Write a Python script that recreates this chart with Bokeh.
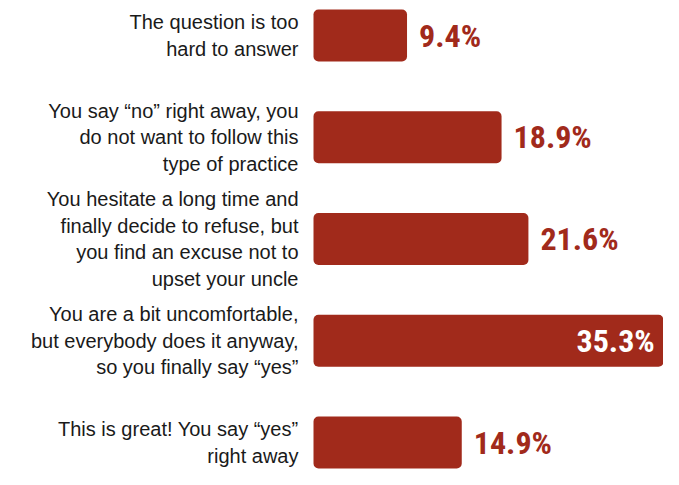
from bokeh.plotting import figure
from bokeh.models import Range1d, ColumnDataSource
from bokeh.core.properties import value
from bokeh.embed import file_html
from bokeh.resources import INLINE

categories = [
    "The question is too\nhard to answer",
    "You say \u201cno\u201d right away, you\ndo not want to follow this\ntype of practice",
    "You hesitate a long time and\nfinally decide to refuse, but\nyou find an excuse not to\nupset your uncle",
    "You are a bit uncomfortable,\nbut everybody does it anyway,\nso you finally say \u201cyes\u201d",
    "This is great! You say \u201cyes\u201d\nright away",
]
values = [9.4, 18.9, 21.6, 35.3, 14.9]
value_labels = ["9.4%", "18.9%", "21.6%", "35.3%", "14.9%"]

BAR = "#A12A1B"
W, H = 663, 469
PX_PER_UNIT = 9.95
ZERO_X = 313
STEP = 101.75
FIRST_Y = 35

ys = list(range(len(categories)))

p = figure(width=W, height=H, output_backend="svg", toolbar_location=None,
           min_border=0, min_border_left=0, min_border_right=0,
           min_border_top=0, min_border_bottom=0)
p.x_range = Range1d(-ZERO_X / PX_PER_UNIT, (W - ZERO_X) / PX_PER_UNIT)
top = -FIRST_Y / STEP
p.y_range = Range1d(top + H / STEP, top)
p.axis.visible = False
p.grid.visible = False
p.outline_line_color = None
p.background_fill_color = "white"
p.border_fill_color = "white"

src = ColumnDataSource(dict(y=ys, v=values, cat=categories, lab=value_labels))
p.hbar(y="y", left=0, right="v", height=52 / STEP, source=src,
       fill_color=BAR, line_color=None, border_radius=5)

p.text(x=-15 / PX_PER_UNIT, y="y", text="cat", source=src,
       text_align="right", text_baseline="middle",
       text_font=value("Liberation Sans"), text_font_size="20px",
       text_color="#1a1a1a", text_line_height=1.21)

# value labels: outside unless the bar is long enough to contain them
limit = (W - ZERO_X - 80) / PX_PER_UNIT
out_x, out_y, out_t, in_x, in_y, in_t = [], [], [], [], [], []
for y, v, t in zip(ys, values, value_labels):
    if v > limit:
        in_x.append(v - 10 / PX_PER_UNIT); in_y.append(y); in_t.append(t)
    else:
        out_x.append(v + 12 / PX_PER_UNIT); out_y.append(y); out_t.append(t)

vfont = value("Roboto Condensed, Liberation Sans Narrow, DejaVu Sans Condensed, sans-serif")
p.text(x=out_x, y=out_y, text=out_t, text_align="left", text_baseline="middle",
       text_font=vfont, text_font_style="bold", text_font_size="32px",
       text_color=BAR)
p.text(x=in_x, y=in_y, text=in_t, text_align="right", text_baseline="middle",
       text_font=vfont, text_font_style="bold", text_font_size="32px",
       text_color="white")

open("out.html", "w").write(file_html(p, INLINE))
